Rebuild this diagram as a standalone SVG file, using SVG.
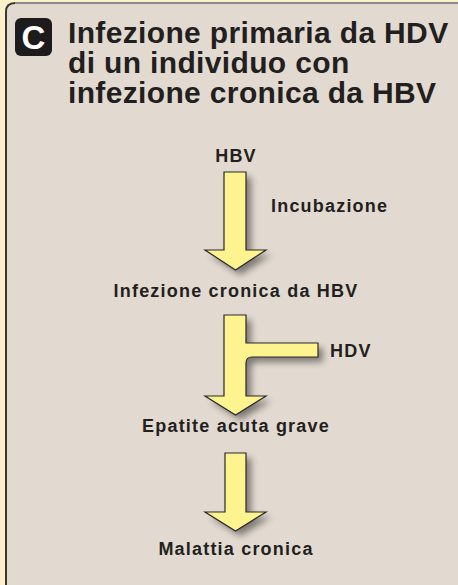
<svg xmlns="http://www.w3.org/2000/svg" width="458" height="585" viewBox="0 0 458 585">
<style>
.t{font-family:"Liberation Sans",Arial,sans-serif;font-weight:bold;fill:#231f20}
.lbl{font-size:18px;letter-spacing:1.2px}
.ttl{font-size:30px;letter-spacing:0.35px}
.arr{fill:#fdf38f;stroke:#2a2a2a;stroke-width:1.2;stroke-linejoin:miter}
.sh{fill:#000;opacity:0.45;filter:url(#blur)}
</style>
<defs>
<filter id="blur" x="-50%" y="-50%" width="200%" height="200%"><feGaussianBlur stdDeviation="3.5"/></filter>
</defs>
<rect x="0" y="0" width="458" height="585" fill="#fdf0cb"/>
<path d="M6,585 V12 Q6,3 15,3 H458 V585 Z" fill="#e2dad0"/>
<path d="M15,3 H458" stroke="#8c8a88" stroke-width="2" fill="none"/>
<path d="M6,585 V12 Q6,3 15,3" stroke="#3a3634" stroke-width="2" fill="none"/>
<g id="title">
<rect x="15" y="18" width="37" height="38" rx="6" fill="#1e1b1c"/>
<text class="t" x="33.5" y="49" font-size="33" text-anchor="middle" style="fill:#fff">C</text>
<text class="t ttl" x="68" y="43">Infezione primaria da HDV</text>
<text class="t ttl" x="68" y="73">di un individuo con</text>
<text class="t ttl" x="68" y="103">infezione cronica da HBV</text>
</g>
<g id="connectors">
<g id="arrow1">
<path class="sh" transform="translate(5,5)" d="M224,172 H246 V250 H266 L235.5,270 L205,250 H224 Z"/>
<path class="arr" d="M224,172 H246 V250 H266 L235.5,270 L205,250 H224 Z"/>
</g>
<g id="arrow2">
<path class="sh" transform="translate(5,5)" d="M224,315 H246 V343 H318 V357 H252 Q246,357 246,363 V396 H266 L235.5,415 L205,396 H224 Z"/>
<path class="arr" d="M224,315 H246 V343 H318 V357 H252 Q246,357 246,363 V396 H266 L235.5,415 L205,396 H224 Z"/>
</g>
<g id="arrow3">
<path class="sh" transform="translate(5,5)" d="M225,453 H246 V512 H266 L235.5,531 L205,512 H225 Z"/>
<path class="arr" d="M225,453 H246 V512 H266 L235.5,531 L205,512 H225 Z"/>
</g>
</g>
<g id="n-hbv"><text class="t lbl" x="236" y="162" text-anchor="middle">HBV</text></g>
<g id="n-incubazione"><text class="t lbl" x="271" y="212">Incubazione</text></g>
<g id="n-cronica"><text class="t lbl" x="236" y="297" text-anchor="middle">Infezione cronica da HBV</text></g>
<g id="n-hdv"><text class="t lbl" x="330" y="357">HDV</text></g>
<g id="n-epatite"><text class="t lbl" x="236" y="432" text-anchor="middle">Epatite acuta grave</text></g>
<g id="n-malattia"><text class="t lbl" x="236" y="555" text-anchor="middle">Malattia cronica</text></g>
</svg>
